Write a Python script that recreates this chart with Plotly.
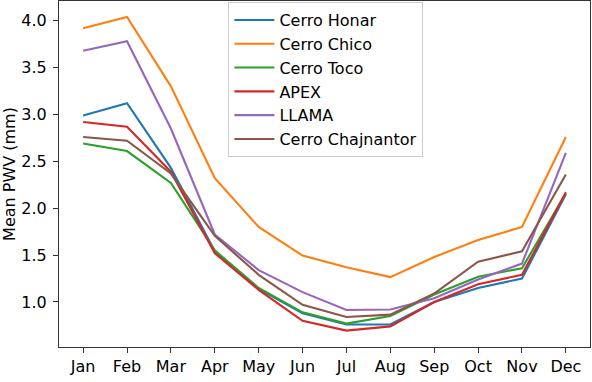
import plotly.graph_objects as go

months = ["Jan", "Feb", "Mar", "Apr", "May", "Jun", "Jul", "Aug", "Sep", "Oct", "Nov", "Dec"]

cerro_honar = [2.99, 3.12, 2.43, 1.54, 1.14, 0.88, 0.76, 0.76, 1.00, 1.15, 1.25, 2.15]
cerro_chico = [3.92, 4.04, 3.30, 2.32, 1.80, 1.495, 1.37, 1.265, 1.48, 1.66, 1.80, 2.76]
cerro_toco = [2.69, 2.61, 2.27, 1.55, 1.15, 0.89, 0.77, 0.85, 1.08, 1.27, 1.36, 2.16]
apex = [2.92, 2.87, 2.39, 1.52, 1.13, 0.80, 0.695, 0.74, 1.00, 1.19, 1.29, 2.17]
llama = [3.68, 3.78, 2.85, 1.72, 1.34, 1.105, 0.915, 0.92, 1.04, 1.24, 1.41, 2.59]
cerro_chajnantor = [2.76, 2.72, 2.37, 1.705, 1.29, 0.97, 0.84, 0.865, 1.09, 1.43, 1.54, 2.36]

series = [
    ("Cerro Honar", cerro_honar, "#1f77b4"),
    ("Cerro Chico", cerro_chico, "#ff7f0e"),
    ("Cerro Toco", cerro_toco, "#2ca02c"),
    ("APEX", apex, "#d62728"),
    ("LLAMA", llama, "#9467bd"),
    ("Cerro Chajnantor", cerro_chajnantor, "#8c564b"),
]

fig = go.Figure()
for name, vals, color in series:
    fig.add_trace(go.Scatter(x=list(range(len(months))), y=vals, name=name, mode="lines",
                             line=dict(color=color, width=2.1)))

font = dict(family="DejaVu Sans", size=16, color="#000000")
fig.update_layout(
    width=592, height=382,
    margin=dict(l=59, r=2, t=1, b=35, autoexpand=False),
    plot_bgcolor="white", paper_bgcolor="white",
    font=font,
    showlegend=True,
    legend=dict(x=0.319, y=0.997, xanchor="left", yanchor="top",
                bordercolor="#cccccc", borderwidth=1, bgcolor="rgba(255,255,255,0.8)",
                font=font, tracegroupgap=0, itemwidth=40),
    xaxis=dict(range=[-0.55, 11.55], tickmode="array", tickvals=list(range(12)), ticktext=months,
               showgrid=False, zeroline=False, showline=True, mirror=True, linecolor="#333333",
               linewidth=1.2, ticks="outside", ticklen=5, tickcolor="#333333", tickfont=font,
               automargin=False),
    yaxis=dict(range=[0.52, 4.21], tickmode="array", tickvals=[1.0, 1.5, 2.0, 2.5, 3.0, 3.5, 4.0],
               ticktext=["1.0", "1.5", "2.0", "2.5", "3.0", "3.5", "4.0"],
               showgrid=False, zeroline=False, showline=True, mirror=True, linecolor="#333333",
               linewidth=1.2, ticks="outside", ticklen=5, tickcolor="#333333", tickfont=font,
               ticklabelstandoff=3, automargin=False,
               title=dict(text="Mean PWV (mm)", font=font, standoff=4)),
)

fig.write_html("out.html", config={"displayModeBar": False},
               post_script="document.body.style.margin='0';document.body.style.padding='0';")
